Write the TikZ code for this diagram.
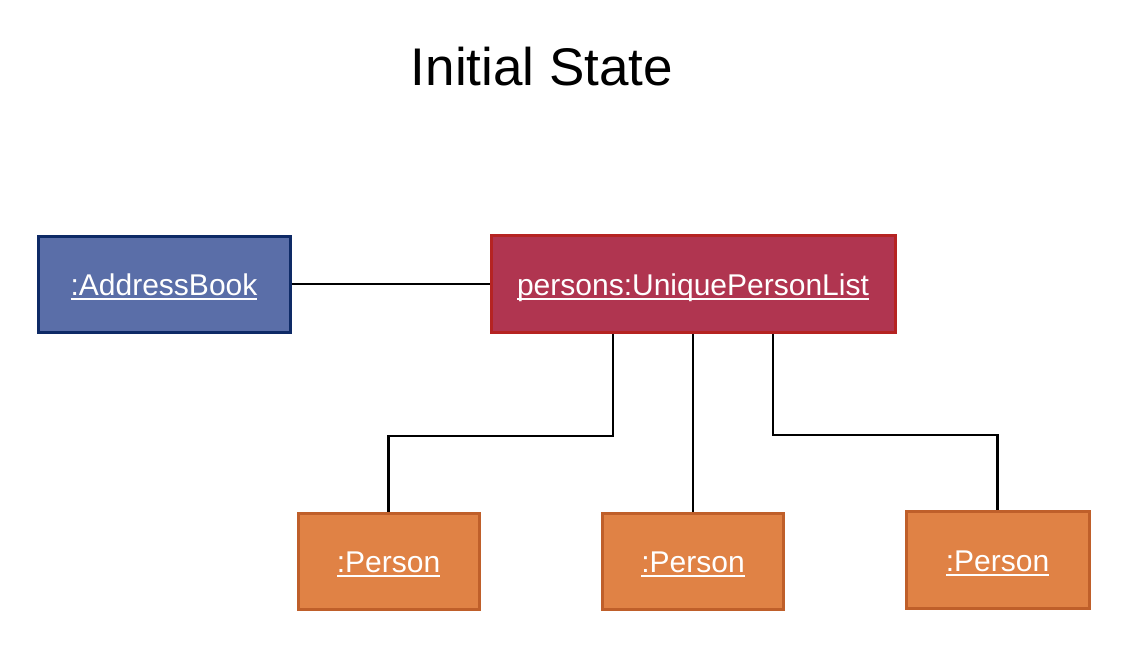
\documentclass[tikz,border=0pt]{standalone}
\usepackage{fontspec}
\setmainfont{Liberation Sans}
\definecolor{abfill}{HTML}{5A6EA8}
\definecolor{abdraw}{HTML}{0E2A66}
\definecolor{plfill}{HTML}{B03550}
\definecolor{pldraw}{HTML}{B52322}
\definecolor{pfill}{HTML}{E08245}
\definecolor{pdraw}{HTML}{BF5F2A}
\newlength\myulw
\newcommand\myul[1]{\settowidth\myulw{#1}\makebox[0pt][l]{\rule[-5pt]{\myulw}{2pt}}#1}
\begin{document}
\begin{tikzpicture}[x=1pt,y=-1pt,
  objbox/.style={draw, line width=3pt, rectangle, inner sep=0pt,
    text=white, font=\fontsize{30}{36}\selectfont, text height=22pt, text depth=0pt},
  conn/.style={draw=black, line width=2.6pt}]
\useasboundingbox (0,0) rectangle (1136,672);
\node[font=\fontsize{53}{60}\selectfont, text height=38pt, text depth=0pt] (title) at (542,66) {Initial State};
\node[objbox, fill=abfill, draw=abdraw, minimum width=252pt, minimum height=96pt] (ab) at (164,284) {\myul{:AddressBook}};
\node[objbox, fill=plfill, draw=pldraw, minimum width=404pt, minimum height=97pt] (pl) at (693,284) {\myul{persons:UniquePersonList}};
\node[objbox, fill=pfill, draw=pdraw, minimum width=181pt, minimum height=96pt] (p1) at (388.5,561) {\myul{:Person}};
\node[objbox, fill=pfill, draw=pdraw, minimum width=181pt, minimum height=96pt] (p2) at (693,561) {\myul{:Person}};
\node[objbox, fill=pfill, draw=pdraw, minimum width=183pt, minimum height=97pt] (p3) at (997.5,560) {\myul{:Person}};
\coordinate (j1) at (613,436);
\coordinate (j3) at (773,435);
\draw[conn] (ab.east) -- (pl.west);
\draw[conn] ([xshift=-80pt]pl.south) -- (j1) -| (p1.north);
\draw[conn] (pl.south) -- (p2.north);
\draw[conn] ([xshift=80pt]pl.south) -- (j3) -| (p3.north);
\end{tikzpicture}
\end{document}
